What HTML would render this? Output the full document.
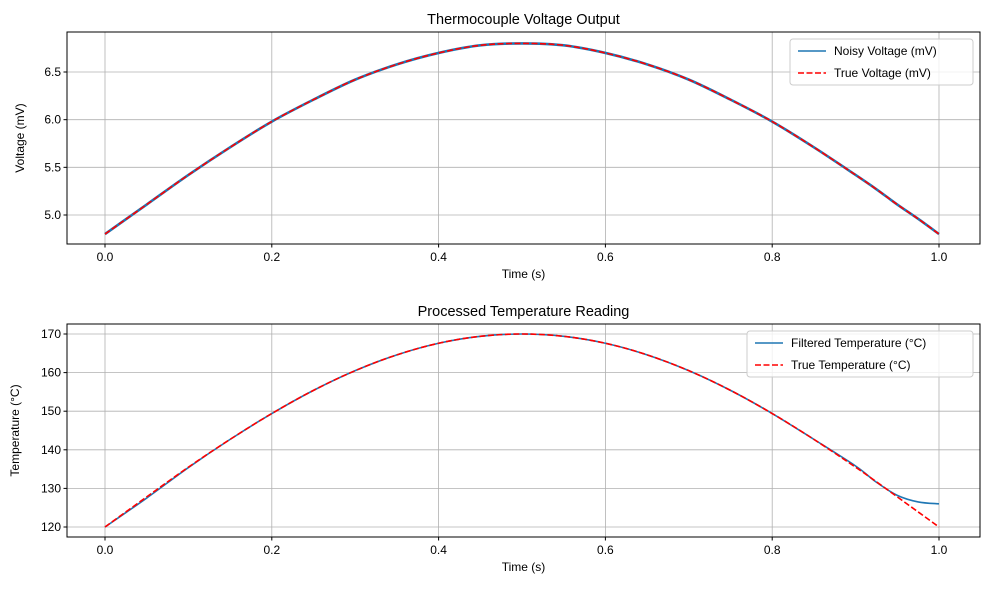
<!DOCTYPE html>
<html><head><meta charset="utf-8"><style>
body{margin:0;background:#fff;width:989px;height:590px;overflow:hidden}
svg text{font-family:"Liberation Sans","DejaVu Sans",sans-serif;fill:#000}
</style></head><body>
<svg id="chart" width="989" height="590" xmlns="http://www.w3.org/2000/svg"></svg>
<script>
const timeValues=[0,0.05,0.1,0.15,0.2,0.25,0.3,0.35,0.4,0.45,0.5,0.55,0.6,0.65,0.7,0.75,0.8,0.85,0.9,0.925,0.95,0.975,1];
const noisyVoltage=[4.80,5.11,5.42,5.71,5.98,6.21,6.42,6.58,6.70,6.78,6.80,6.78,6.70,6.58,6.42,6.21,5.98,5.71,5.42,5.27,5.11,4.96,4.80];
const trueVoltage=[4.80,5.11,5.42,5.71,5.98,6.21,6.42,6.58,6.70,6.78,6.80,6.78,6.70,6.58,6.42,6.21,5.98,5.71,5.42,5.27,5.11,4.96,4.80];
const filteredTemp=[120,127.5,135.4,142.7,149.4,155.4,160.5,164.6,167.6,169.4,170,169.4,167.6,164.6,160.5,155.4,149.4,142.7,135.8,131.6,128.2,126.5,126];
const trueTemp=[120,127.8,135.5,142.7,149.4,155.4,160.5,164.6,167.6,169.4,170,169.4,167.6,164.6,160.5,155.4,149.4,142.7,135.5,131.7,127.8,123.9,120];
const xTicks=[0,0.2,0.4,0.6,0.8,1.0];
const vTicks=[5.0,5.5,6.0,6.5];
const tTicks=[120,130,140,150,160,170];
const svg=document.getElementById('chart');
const NS='http://www.w3.org/2000/svg';
function mk(tag,a,parent){const e=document.createElementNS(NS,tag);for(const k in a)e.setAttribute(k,a[k]);(parent||svg).appendChild(e);return e;}
const L=67,R=980;
const xs=t=>105+t*834;
function smooth(pts){let d='M'+pts[0][0]+','+pts[0][1];
  for(let i=0;i<pts.length-1;i++){const p0=pts[Math.max(0,i-1)],p1=pts[i],p2=pts[i+1],p3=pts[Math.min(pts.length-1,i+2)];
    const c1x=p1[0]+(p2[0]-p0[0])/6,c1y=p1[1]+(p2[1]-p0[1])/6,c2x=p2[0]-(p3[0]-p1[0])/6,c2y=p2[1]-(p3[1]-p1[1])/6;
    d+=` C${c1x},${c1y} ${c2x},${c2y} ${p2[0]},${p2[1]}`;}
  return d;}
function panel(top,bot,ymap,yt,fmt,s1,s2,n1,n2,title,ylab,legX,legW,tag,w1){
  const g=mk('g',{});
  
  
  xTicks.forEach(t=>{const l=mk('line',{x1:xs(t),x2:xs(t),y1:top,y2:bot,stroke:'#b0b0b0','stroke-width':0.8},g);
    mk('line',{x1:xs(t),x2:xs(t),y1:bot,y2:bot+3.5,stroke:'#000'},g);
    const tx=mk('text',{x:xs(t),y:bot+17,'font-size':12,'text-anchor':'middle'},g);tx.textContent=t.toFixed(1);});
  yt.forEach(v=>{const y=ymap(v);const l=mk('line',{x1:L,x2:R,y1:y,y2:y,stroke:'#b0b0b0','stroke-width':0.8},g);
    mk('line',{x1:L-3.5,x2:L,y1:y,y2:y,stroke:'#000'},g);
    const tx=mk('text',{x:L-6,y:y+4,'font-size':12,'text-anchor':'end'},g);tx.textContent=fmt(v);});
  const p1=mk('path',{d:smooth(timeValues.map((t,i)=>[xs(t),ymap(s1[i])])),fill:'none',stroke:'#1f77b4','stroke-width':w1},g);
  
  const p2=mk('path',{d:smooth(timeValues.map((t,i)=>[xs(t),ymap(s2[i])])),fill:'none',stroke:'#ff0000','stroke-width':1.6,'stroke-dasharray':'6,2.5'},g);
  
  const fr=mk('rect',{x:L,y:top,width:R-L,height:bot-top,fill:'none',stroke:'#000','stroke-width':1},g);
  
  const ti=mk('text',{x:(L+R)/2,y:top-8,'font-size':14.5,'text-anchor':'middle'},g);ti.textContent=title;
  
  const xl=mk('text',{x:(L+R)/2,y:bot+34,'font-size':12,'text-anchor':'middle'},g);xl.textContent='Time (s)';
  
  const yc=(top+bot)/2;const yl=mk('text',{x:0,y:0,'font-size':12,'text-anchor':'middle',transform:`translate(${tag==='voltage'?24:19},${yc}) rotate(-90)`},g);yl.textContent=ylab;
  
  const lg=mk('g',{},g);
  mk('rect',{x:legX,y:top+7,width:legW,height:46,rx:3,fill:'#fff','fill-opacity':0.8,stroke:'#ccc'},lg);
  mk('line',{x1:legX+8,x2:legX+36,y1:top+19,y2:top+19,stroke:'#1f77b4','stroke-width':1.6},lg);
  mk('line',{x1:legX+8,x2:legX+36,y1:top+41,y2:top+41,stroke:'#ff0000','stroke-width':1.6,'stroke-dasharray':'6,2.5'},lg);
  const e1=mk('text',{x:legX+44,y:top+23,'font-size':12},lg);e1.textContent=n1;
  const e2=mk('text',{x:legX+44,y:top+45,'font-size':12},lg);e2.textContent=n2;
}
panel(32,244,v=>215-(v-5)*95.33,vTicks,v=>v.toFixed(1),noisyVoltage,trueVoltage,'Noisy Voltage (mV)','True Voltage (mV)','Thermocouple Voltage Output','Voltage (mV)',790,183,'voltage',2.6);
panel(324,537,v=>527-(v-120)*3.86,tTicks,v=>String(v),filteredTemp,trueTemp,'Filtered Temperature (°C)','True Temperature (°C)','Processed Temperature Reading','Temperature (°C)',747,226,'temperature',1.6);
</script>
</body></html>
